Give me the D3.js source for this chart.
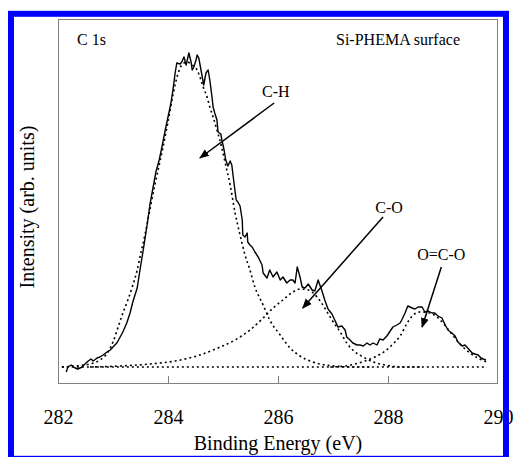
<!DOCTYPE html>
<html>
<head>
<meta charset="utf-8">
<script src="https://cdn.jsdelivr.net/npm/d3@7"></script>
<style>
  body { margin: 0; background: #fff; }
  svg text { font-family: "Liberation Serif", Tinos, "DejaVu Serif", "Times New Roman", serif; }
</style>
</head>
<body>
<svg id="chart" width="515" height="457"></svg>
<script>
// measured C 1s spectrum [binding energy (eV), intensity (arb.)]
const measured = [
  [282.15, 11], [282.18, 16], [282.24, 18], [282.31, 15], [282.36, 14], [282.44, 16],
  [282.49, 19], [282.55, 22], [282.60, 24], [282.64, 22], [282.71, 25], [282.76, 26],
  [282.82, 28], [282.89, 31], [282.95, 33], [283.00, 36], [283.07, 40], [283.13, 46],
  [283.18, 51], [283.25, 60], [283.31, 70], [283.36, 81], [283.44, 95], [283.49, 113],
  [283.55, 133], [283.62, 158], [283.67, 178], [283.73, 196], [283.78, 211], [283.84, 223],
  [283.89, 236], [283.95, 253], [284.00, 266], [284.05, 279], [284.09, 293], [284.13, 310],
  [284.16, 320], [284.22, 319], [284.25, 321], [284.29, 326], [284.33, 318], [284.35, 323],
  [284.38, 330], [284.42, 321], [284.44, 313], [284.47, 316], [284.51, 323], [284.53, 328],
  [284.56, 325], [284.60, 313], [284.64, 301], [284.65, 298], [284.69, 310], [284.73, 313],
  [284.76, 303], [284.80, 286], [284.82, 276], [284.85, 270], [284.89, 263], [284.91, 251],
  [284.96, 249], [284.98, 243], [285.02, 233], [285.05, 223], [285.09, 217], [285.13, 222],
  [285.16, 218], [285.20, 200], [285.24, 183], [285.27, 181], [285.31, 177], [285.35, 163],
  [285.36, 148], [285.40, 146], [285.44, 150], [285.45, 141], [285.49, 138], [285.53, 136],
  [285.58, 131], [285.64, 126], [285.71, 118], [285.73, 110], [285.80, 105], [285.85, 113],
  [285.91, 106], [285.98, 111], [286.04, 103], [286.09, 106], [286.16, 100], [286.22, 103],
  [286.27, 103], [286.31, 100], [286.35, 116], [286.40, 106], [286.44, 96], [286.49, 95],
  [286.55, 99], [286.62, 93], [286.67, 92], [286.73, 103], [286.80, 92], [286.85, 83],
  [286.91, 74], [286.98, 69], [287.04, 62], [287.09, 56], [287.16, 57], [287.22, 53],
  [287.25, 46], [287.31, 43], [287.36, 40], [287.44, 38], [287.49, 38], [287.55, 37],
  [287.62, 40], [287.67, 38], [287.73, 40], [287.80, 38], [287.85, 44], [287.91, 43],
  [287.98, 47], [288.04, 52], [288.09, 56], [288.16, 58], [288.22, 60], [288.25, 63],
  [288.31, 70], [288.36, 77], [288.44, 75], [288.49, 74], [288.55, 76], [288.62, 76],
  [288.67, 71], [288.73, 72], [288.80, 70], [288.85, 70], [288.91, 67], [288.98, 65],
  [289.04, 58], [289.09, 53], [289.16, 50], [289.22, 47], [289.27, 41], [289.35, 37],
  [289.40, 38], [289.45, 35], [289.53, 30], [289.58, 29], [289.64, 28], [289.69, 25],
  [289.73, 24], [289.78, 23]
];

// fitted components (dotted)
const peakCH = [
  [282.07, 16], [282.31, 17], [282.58, 19], [282.76, 23], [282.91, 31], [283.00, 41],
  [283.07, 52], [283.16, 67], [283.27, 83], [283.35, 96], [283.44, 113], [283.49, 126],
  [283.58, 148], [283.67, 173], [283.76, 198], [283.84, 218], [283.91, 236], [284.00, 261],
  [284.09, 288], [284.18, 309], [284.25, 318], [284.35, 321], [284.44, 318], [284.53, 313],
  [284.58, 306], [284.64, 296], [284.71, 286], [284.76, 276], [284.82, 266], [284.89, 253],
  [284.98, 235], [285.04, 220], [285.13, 198], [285.22, 170], [285.31, 148], [285.40, 128],
  [285.49, 113], [285.58, 96], [285.73, 78], [285.85, 63], [286.04, 48], [286.22, 35],
  [286.40, 27], [286.58, 22], [286.76, 19], [287.04, 17], [287.31, 16], [287.67, 16]
];
const peakCO = [
  [282.58, 16], [283.13, 17], [283.67, 19], [284.13, 22], [284.58, 28], [284.95, 36],
  [285.22, 43], [285.49, 53], [285.73, 65], [285.91, 75], [286.09, 83], [286.27, 91],
  [286.40, 94], [286.55, 93], [286.71, 86], [286.85, 75], [286.98, 63], [287.13, 51],
  [287.25, 40], [287.40, 31], [287.55, 26], [287.73, 21], [287.95, 18], [288.22, 16],
  [288.58, 16]
];
const peakOCO = [
  [286.95, 16], [287.22, 17], [287.40, 19], [287.58, 22], [287.76, 26], [287.95, 32],
  [288.09, 39], [288.22, 47], [288.35, 60], [288.44, 67], [288.58, 71], [288.76, 70],
  [288.89, 66], [289.00, 60], [289.13, 51], [289.31, 39], [289.49, 30], [289.67, 24],
  [289.80, 21]
];
const background = [[282.07, 16], [289.80, 16]];

const xTicks = [282, 284, 286, 288, 290];

// peak labels: text position and arrow [from, to] in data units
const labels = [
  { text: "C-H", at: [285.96, 286], from: [285.93, 280], to: [284.58, 225] },
  { text: "C-O", at: [288.02, 170], from: [287.91, 166], to: [286.45, 75] },
  { text: "O=C-O", at: [288.97, 123], from: [288.97, 116], to: [288.62, 56] }
];

const serif = '"Liberation Serif", Tinos, "DejaVu Serif", "Times New Roman", serif';

const svg = d3.select("#chart");
const W = 515, H = 457;
const box = { left: 58, right: 498, top: 19, bottom: 383 };

svg.append("rect").attr("width", W).attr("height", H).attr("fill", "#fff");

const x = d3.scaleLinear().domain([282, 290]).range([box.left, box.right]);
const y = d3.scaleLinear().domain([0, 364]).range([box.bottom, box.top]);

// plot frame
svg.append("rect")
  .attr("x", box.left + 0.5).attr("y", box.top + 0.5)
  .attr("width", box.right - box.left - 1).attr("height", box.bottom - box.top)
  .attr("fill", "none").attr("stroke", "#808080").attr("stroke-width", 1);

// x axis: inner ticks, labels further below
const xAxis = svg.append("g")
  .attr("transform", "translate(0," + box.bottom + ")")
  .call(d3.axisBottom(x).tickValues(xTicks).tickSizeInner(-7).tickSizeOuter(0).tickPadding(27));
xAxis.attr("font-family", serif).attr("font-size", 20);
xAxis.select(".domain").remove();
xAxis.selectAll(".tick line").attr("stroke", "#808080")
  .filter(d => d === 282 || d === 290).remove();
xAxis.selectAll(".tick text").attr("fill", "#000");

const line = d3.line().x(d => x(d[0])).y(d => y(d[1]));
const smoothLine = d3.line().x(d => x(d[0])).y(d => y(d[1])).curve(d3.curveMonotoneX);

[peakCH, peakCO, peakOCO, background].forEach(s => {
  svg.append("path")
    .datum(s)
    .attr("d", smoothLine)
    .attr("fill", "none")
    .attr("stroke", "#000")
    .attr("stroke-width", 1.6)
    .attr("stroke-dasharray", "2,3");
});

svg.append("path")
  .datum(measured)
  .attr("d", line)
  .attr("fill", "none")
  .attr("stroke", "#000")
  .attr("stroke-width", 1.4)
  .attr("stroke-linejoin", "round");

// arrows
svg.append("defs").append("marker")
  .attr("id", "head")
  .attr("viewBox", "0 0 10 10")
  .attr("refX", 9).attr("refY", 5)
  .attr("markerWidth", 10).attr("markerHeight", 10)
  .attr("markerUnits", "userSpaceOnUse")
  .attr("orient", "auto")
  .append("path").attr("d", "M0,1L10,5L0,9Z").attr("fill", "#000");

labels.forEach(l => {
  svg.append("line")
    .attr("x1", x(l.from[0])).attr("y1", y(l.from[1]))
    .attr("x2", x(l.to[0])).attr("y2", y(l.to[1]))
    .attr("stroke", "#000").attr("stroke-width", 1.5)
    .attr("marker-end", "url(#head)");
  svg.append("text")
    .attr("x", x(l.at[0])).attr("y", y(l.at[1]))
    .attr("text-anchor", "middle")
    .attr("font-family", serif)
    .attr("font-size", 16)
    .text(l.text);
});

svg.append("text").attr("x", 77).attr("y", 45)
  .attr("font-family", serif).attr("font-size", 16).text("C 1s");
svg.append("text").attr("x", 460).attr("y", 45).attr("text-anchor", "end")
  .attr("font-family", serif).attr("font-size", 16).text("Si-PHEMA surface");

// axis titles
svg.append("text")
  .attr("x", 278).attr("y", 450)
  .attr("text-anchor", "middle").attr("font-family", serif).attr("font-size", 20)
  .text("Binding Energy (eV)");
svg.append("text")
  .attr("transform", "translate(34,207) rotate(-90)")
  .attr("text-anchor", "middle").attr("font-family", serif).attr("font-size", 20)
  .text("Intensity (arb. units)");

// blue frame around the figure
svg.append("rect")
  .attr("x", 11).attr("y", 13.8)
  .attr("width", 495).attr("height", 445)
  .attr("fill", "none").attr("stroke", "#0000ff").attr("stroke-width", 6);
</script>
</body>
</html>
